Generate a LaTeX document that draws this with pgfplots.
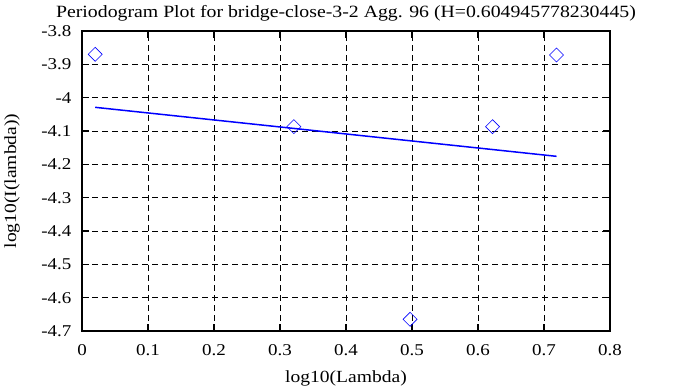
\documentclass[border=0pt]{standalone}
\usepackage{fontspec}
\setmainfont{Liberation Serif}[FakeStretch=1.15]
\usepackage{pgfplots}
\pgfplotsset{compat=1.18}
\begin{document}
\begin{tikzpicture}[x=1pt,y=1pt]
\path[use as bounding box] (-82,-56) rectangle (606,331);
\begin{axis}[
  at={(0,0)}, anchor=south west,
  scale only axis, width=528pt, height=300pt,
  xmin=0, xmax=0.8, ymin=-4.7, ymax=-3.8,
  xtick={0,0.1,0.2,0.3,0.4,0.5,0.6,0.7,0.8},
  ytick={-4.7,-4.6,-4.5,-4.4,-4.3,-4.2,-4.1,-4,-3.9,-3.8},
  yticklabels={-4.7,-4.6,-4.5,-4.4,-4.3,-4.2,-4.1,-4,-3.9,-3.8},
  xticklabels={0,0.1,0.2,0.3,0.4,0.5,0.6,0.7,0.8},
  grid=major,
  major grid style={black, dash pattern=on 6pt off 4pt, line width=0.8pt},
  axis line style={black, line width=1.6pt},
  tick style={black, line width=1.6pt},
  major tick length=7pt, tick align=inside,
  ticklabel style={font=\fontsize{16.5}{16.5}\selectfont},
  yticklabel style={xshift=-7pt},
  xticklabel style={yshift=-10pt},
  title={Periodogram Plot for bridge-close-3-2 Agg. 96 (H=0.604945778230445)},
  title style={at={(axis description cs:0.5,1.07)}, anchor=center, yshift=-9pt, font=\fontsize{17.2}{17.2}\selectfont},
  xlabel={log10(Lambda)},
  xlabel style={at={(axis description cs:0.5,-0.1533)}, anchor=center, yshift=-1pt, font=\fontsize{17}{17}\selectfont},
  ylabel={log10(I(lambda))},
  ylabel style={at={(axis description cs:-0.1326,0.5)}, anchor=center, font=\fontsize{17}{17}\selectfont},
]
\addplot[blue, line width=1.5pt] coordinates {(0.0200,-4.029) (0.7190,-4.176)};
\addplot[only marks, blue, mark=square, mark size=4.95pt, mark options={rotate=45, solid, line width=0.6pt}]
  coordinates {(0.0200,-3.870) (0.3210,-4.087) (0.4971,-4.665) (0.6221,-4.087) (0.7190,-3.872)};
\end{axis}
\end{tikzpicture}
\end{document}
